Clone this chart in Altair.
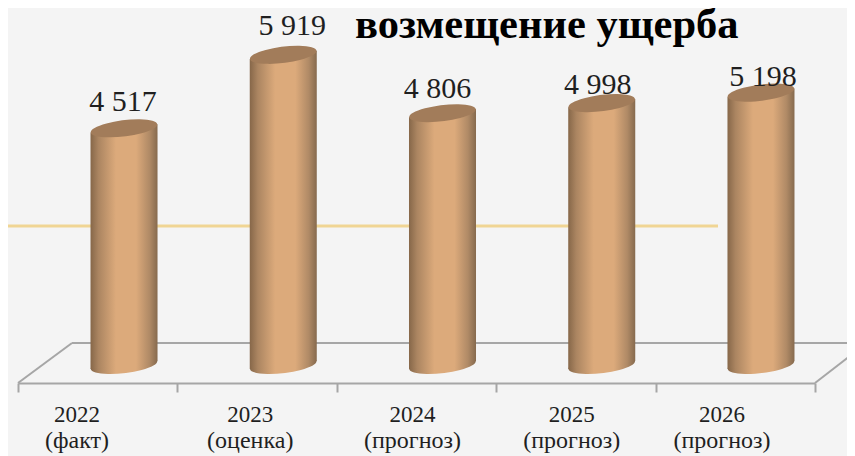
import altair as alt
import pandas as pd

years = ["2022", "2023", "2024", "2025", "2026"]
kinds = ["(факт)", "(оценка)", "(прогноз)", "(прогноз)", "(прогноз)"]
values = [4517, 5919, 4806, 4998, 5198]
title_text = "возмещение ущерба"

# per-label nudges of the slide's free-placed text (px)
value_dx = [-1, 9, -5, -4, 2]
value_dy = [-17.5, -20, -15, -9.5, -7]
label_dx = [-47, -33, -30, -30, -39]

df = pd.DataFrame({"year": years, "kind": kinds, "value": values})
df["zero"] = 0
df["idx"] = range(len(years))
df["text"] = [f"{v:,}".replace(",", " ") for v in values]

W, H = 839, 448
SERIF = "Liberation Serif"
FLOOR = "#a6a6a6"
TXT = "#1f1f1f"

bar_scale = alt.Scale(domain=years, range=[36.4, 832.6], paddingInner=0.58, paddingOuter=0.29)
body_x_scale = alt.Scale(domain=[-0.5, 4.5], range=[36.4, 832.6], nice=False, zero=False)
floor_scale = alt.Scale(domain=years, range=[10, 807], padding=0)
y_scale = alt.Scale(domain=[-1737, 6813], range=[H, 0], nice=False, zero=False)

x_bar = alt.X("year:N", scale=bar_scale, axis=None, sort=years)
y_val = alt.Y("value:Q", scale=y_scale, axis=None)
y_zero = alt.Y("zero:Q", scale=y_scale, axis=None)

body = alt.LinearGradient(
    gradient="linear", x1=0, x2=1, y1=0, y2=0,
    stops=[
        alt.GradientStop(offset=0, color="#866749"),
        alt.GradientStop(offset=0.12, color="#ab8561"),
        alt.GradientStop(offset=0.38, color="#dcaa7b"),
        alt.GradientStop(offset=0.68, color="#dcaa7b"),
        alt.GradientStop(offset=0.88, color="#b08a66"),
        alt.GradientStop(offset=1, color="#866a4e"),
    ],
)
ELLIPSE = "M-0.9925,0.1219 A1,0.24 -7 1 1 0.9925,-0.1219 A1,0.24 -7 1 1 -0.9925,0.1219 Z"
CAP_SIZE = 67 ** 2
HALF_WIDTH = 0.2104   # half a cylinder, in category steps
TILT = 78             # rise of the tilted rim, in value units

base = alt.Chart(df)

def deco(x, x2, y, y2, color=FLOOR, sw=2):
    return base.transform_filter("datum.year == '2022'").mark_rule(color=color, strokeWidth=sw).encode(
        x=alt.value(x), x2=alt.value(x2), y=alt.value(y), y2=alt.value(y2)
    )

gold = deco(0, 710, 218, 218, "#f0d594", 3)
back = deco(64, 847, 335, 335)
left = deco(10, 64, 375, 335)
right = deco(807, 847, 375, 344)

axis_layer = base.mark_point(opacity=0).encode(
    x=alt.X("year:N", scale=floor_scale, sort=years, title=None,
            axis=alt.Axis(orient="bottom", offset=-73, labels=False, grid=False, tickBand="extent",
                          tickSize=9, tickWidth=2, tickColor=FLOOR, domainColor=FLOOR, domainWidth=2)),
    y=alt.value(0),
)

bottoms = base.mark_point(shape=ELLIPSE, size=CAP_SIZE, fill=body, filled=True, opacity=1, strokeWidth=0).encode(
    x=x_bar, y=y_zero)

bodies = base.transform_calculate(sides="[-1, 1]").transform_flatten(["sides"]).transform_calculate(
    px=f"datum.idx + datum.sides * {HALF_WIDTH}",
    top=f"datum.value + datum.sides * {TILT}",
    low=f"datum.sides * {TILT}",
).mark_area(fill=body, interpolate="linear").encode(
    x=alt.X("px:Q", scale=body_x_scale, axis=None),
    y=alt.Y("top:Q", scale=y_scale, axis=None),
    y2="low:Q",
    detail="year:N",
)

tops = base.mark_point(shape=ELLIPSE, size=CAP_SIZE, fill="#a27c5a", filled=True, opacity=1, strokeWidth=0).encode(
    x=x_bar, y=y_val)

texts = []
for i, yr in enumerate(years):
    sub = base.transform_filter(alt.datum.year == yr)
    texts.append(sub.mark_text(font=SERIF, fontSize=30, color=TXT, baseline="alphabetic",
                               dx=value_dx[i], dy=value_dy[i]).encode(x=x_bar, y=y_val, text="text:N"))
    texts.append(sub.mark_text(font=SERIF, fontSize=23, color=TXT, baseline="alphabetic",
                               dx=label_dx[i]).encode(x=x_bar, y=alt.value(414), text="year:N"))
    texts.append(sub.mark_text(font=SERIF, fontSize=24, color=TXT, baseline="alphabetic",
                               dx=label_dx[i]).encode(x=x_bar, y=alt.value(440), text="kind:N"))

title = base.transform_filter("datum.year == '2022'").mark_text(
    font=SERIF, fontSize=42.5, fontWeight="bold", color="#000000", align="left", baseline="alphabetic"
).encode(x=alt.value(347), y=alt.value(30), text=alt.value(title_text))

chart = alt.layer(
    gold, back, left, right, axis_layer, bottoms, bodies, tops, *texts, title
).resolve_scale(x="independent").properties(
    width=W, height=H, padding=0, background="#f4f4f4", autosize=alt.AutoSizeParams(type="none")
).configure_view(stroke=None)

chart.save("out.html", embed_options={"renderer": "svg", "actions": False})
